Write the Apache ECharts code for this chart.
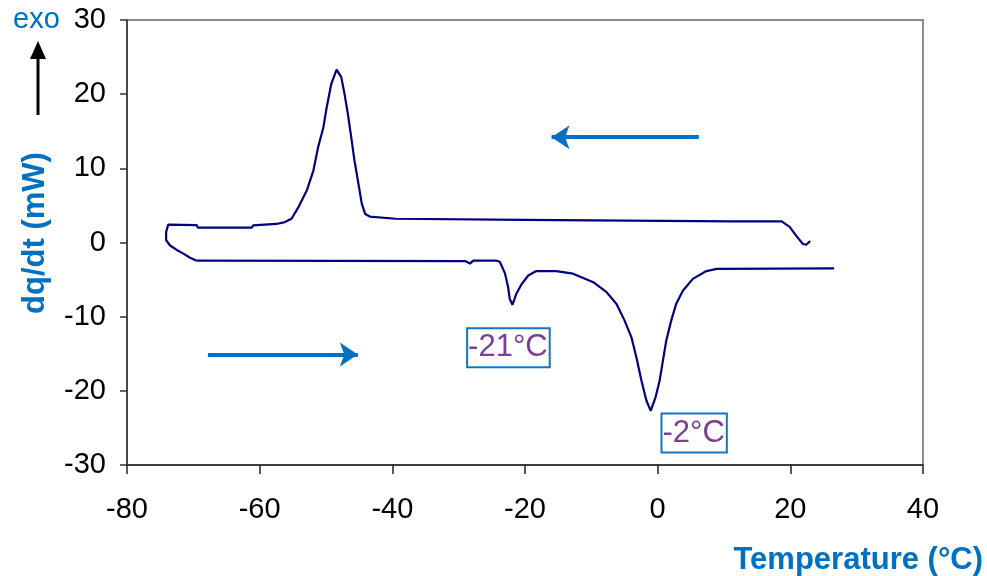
<!DOCTYPE html>
<html>
<head>
<meta charset="utf-8">
<script src="https://cdn.jsdelivr.net/npm/echarts@6/dist/echarts.min.js"></script>
<style>
  html, body { margin: 0; padding: 0; background: #fff; }
  #main { width: 987px; height: 576px; }
</style>
</head>
<body>
<div id="main"></div>
<script>
// cooling run (right to left), temperature in °C and heat flow in mW
var coolTemp = [23.0, 22.7, 22.4, 21.9, 20.9, 19.9, 18.7, 11.2, 11.0, -20.2, -20.4, -39.5, -39.7, -43.4,
  -44.1, -44.6, -45.2, -45.7, -46.2, -46.7, -47.2, -47.7, -48.4, -49.2, -49.9, -50.4, -51.2, -51.9,
  -52.9, -54.2, -55.2, -56.2, -57.5, -61.0, -61.2, -69.3, -69.5, -73.8, -74.1, -74.1, -73.5, -72.5,
  -71.5, -70.5, -69.5];
var coolHeat = [0.2, 0.1, -0.3, -0.2, 0.9, 2.1, 2.85, 2.85, 3.05, 3.05, 3.2, 3.2, 3.45, 3.5,
  3.85, 5.2, 8.4, 11.0, 14.2, 17.3, 20.0, 22.3, 23.3, 21.4, 18.2, 15.5, 12.8, 9.7,
  7.0, 4.7, 3.2, 2.75, 2.5, 2.3, 2.0, 2.0, 2.35, 2.4, 1.4, 0.3, -0.4, -1.0,
  -1.5, -2.05, -2.45];

// heating run (left to right)
var heatTemp = [-69.5, -29.0, -28.3, -27.8, -24.3, -23.8, -23.0, -22.55, -22.3, -21.9, -21.3, -20.5,
  -19.5, -18.3, -15.3, -12.75, -9.7, -7.7, -6.2, -5.0, -3.95, -3.2, -2.45, -1.7, -1.05, -0.3,
  0.3, 0.8, 1.3, 2.05, 2.8, 3.8, 5.3, 7.35, 8.9, 26.6];
var heatHeat = [-2.45, -2.5, -2.85, -2.45, -2.45, -2.6, -4.2, -6.0, -7.6, -8.4, -6.9, -5.6,
  -4.45, -3.85, -3.85, -4.2, -5.35, -6.7, -8.3, -10.5, -12.8, -15.5, -18.6, -21.3, -22.7, -20.8,
  -18.6, -15.9, -13.2, -10.5, -8.25, -6.5, -4.9, -3.85, -3.55, -3.5];

// peak annotations [temperature, mW, text]
var peakNotes = [[-22.5, -14.2, '-21°C'], [5.5, -25.7, '-2°C']];
// direction arrows [fromT, fromY, toT, toY]
var runArrows = [[-67.8, -15.1, -45.2, -15.1], [6.2, 14.2, -16.0, 14.2]];

var xTicks = { min: -80, max: 40, step: 20 };
var yTicks = { min: -30, max: 30, step: 10 };

function pairs(xs, ys) {
  return xs.map(function (x, i) { return [x, ys[i]]; });
}

var font = 'Liberation Sans, Arial, sans-serif';
var chart = echarts.init(document.getElementById('main'));

var option = {
  animation: false,
  grid: {
    left: 127, right: 64, top: 20, bottom: 111,
    show: true, borderColor: '#8c8c8c', borderWidth: 2
  },
  xAxis: {
    type: 'value',
    min: xTicks.min, max: xTicks.max, interval: xTicks.step,
    axisLine: { onZero: false, lineStyle: { color: '#222', width: 1.5 } },
    axisTick: { show: true, inside: false, length: 9, lineStyle: { color: '#222', width: 1.5 } },
    axisLabel: { color: '#000', fontSize: 29, fontFamily: font, margin: 30 },
    splitLine: { show: false }
  },
  yAxis: {
    type: 'value',
    min: yTicks.min, max: yTicks.max, interval: yTicks.step,
    axisLine: { onZero: false, lineStyle: { color: '#333', width: 1.5 } },
    axisTick: { show: true, inside: false, length: 7, lineStyle: { color: '#333', width: 1.5 } },
    axisLabel: { color: '#000', fontSize: 29, fontFamily: font, margin: 21 },
    splitLine: { show: false }
  },
  series: [
    {
      name: 'cooling',
      type: 'line',
      data: pairs(coolTemp, coolHeat),
      showSymbol: false,
      lineStyle: { color: '#000080', width: 2.2 },
      silent: true
    },
    {
      name: 'heating',
      type: 'line',
      data: pairs(heatTemp, heatHeat),
      showSymbol: false,
      lineStyle: { color: '#000080', width: 2.2 },
      silent: true,
      markPoint: {
        symbol: 'circle',
        symbolSize: 0,
        silent: true,
        label: {
          show: true,
          position: 'inside',
          formatter: function (p) { return p.name; },
          color: '#7a3e92',
          fontSize: 31,
          fontFamily: font,
          borderColor: '#1874C0',
          borderWidth: 2,
          padding: [4, 1, 2, 0],
          backgroundColor: '#fff'
        },
        data: peakNotes.map(function (n) { return { name: n[2], coord: [n[0], n[1]] }; })
      },
      markLine: {
        silent: true,
        symbol: ['none', 'arrow'],
        symbolSize: 18,
        label: { show: false },
        lineStyle: { color: '#0070C0', width: 4, type: 'solid' },
        data: runArrows.map(function (a) {
          return [{ coord: [a[0], a[1]] }, { coord: [a[2], a[3]] }];
        })
      }
    }
  ],
  graphic: [
    {
      type: 'text',
      style: { x: 13, y: 20, text: 'exo', fill: '#0070C0', font: '29px ' + font, verticalAlign: 'middle' }
    },
    {
      type: 'line',
      shape: { x1: 38, y1: 115, x2: 38, y2: 56 },
      style: { stroke: '#000', lineWidth: 3 }
    },
    {
      type: 'polygon',
      shape: { points: [[38, 41], [30, 59], [46, 59]] },
      style: { fill: '#000' }
    },
    {
      type: 'text',
      x: 35, y: 233, rotation: Math.PI / 2,
      style: {
        x: 0, y: 0, text: 'dq/dt (mW)', fill: '#0070C0',
        font: 'bold 31px ' + font, align: 'center', verticalAlign: 'middle'
      }
    },
    {
      type: 'text',
      style: {
        x: 983, y: 560, text: 'Temperature (°C)', fill: '#0070C0',
        font: 'bold 31px ' + font, align: 'right', verticalAlign: 'middle'
      }
    }
  ]
};

chart.setOption(option);
</script>
</body>
</html>
